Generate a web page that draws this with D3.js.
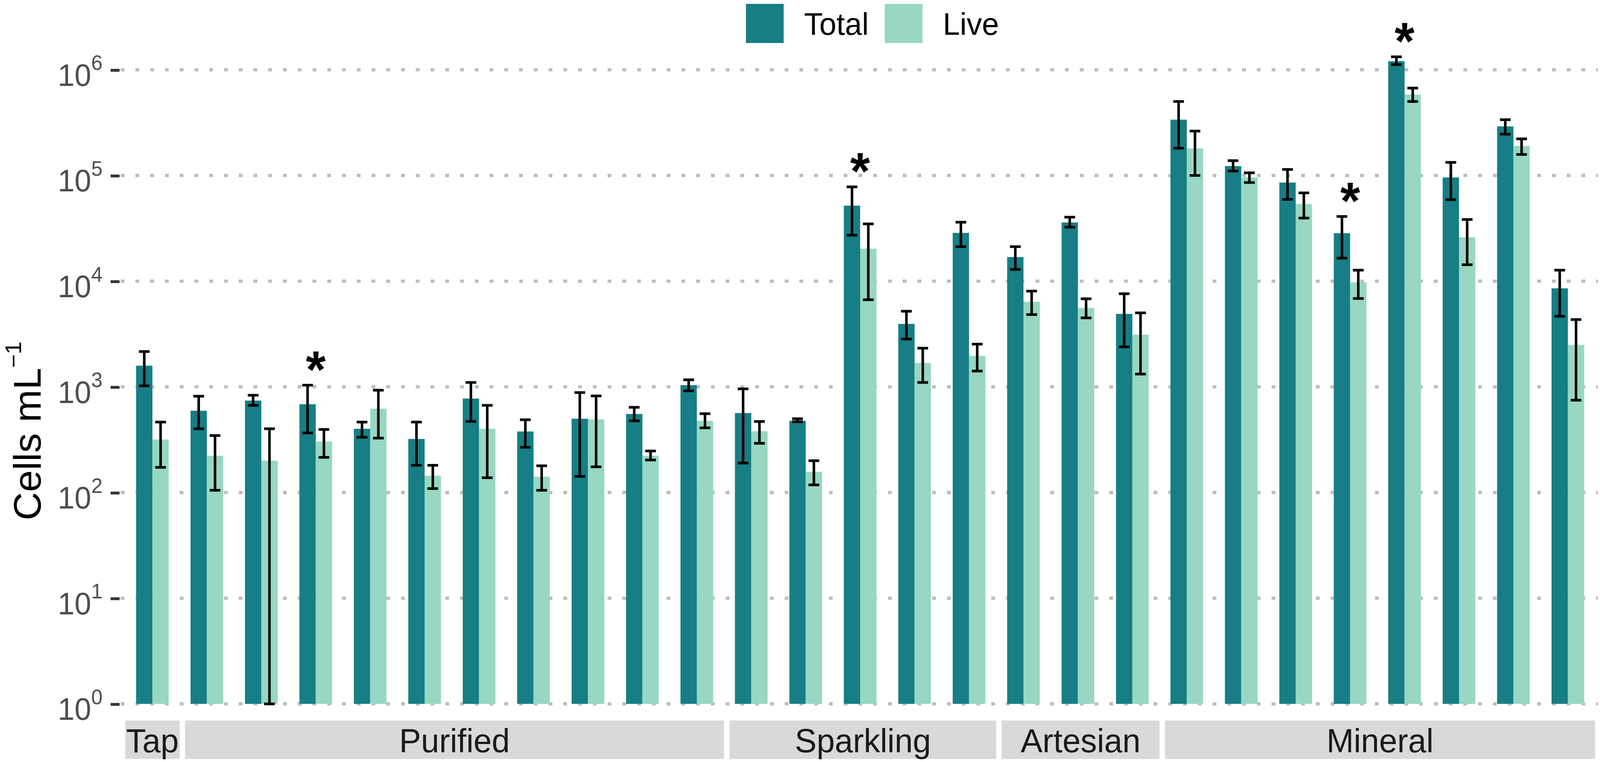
<!DOCTYPE html>
<html>
<head>
<meta charset="utf-8">
<script src="https://d3js.org/d3.v7.min.js"></script>
<style>
  html, body { margin: 0; padding: 0; background: #fff; overflow: hidden; }
  svg { display: block; }
  text { font-family: "Liberation Sans", Arial, Helvetica, sans-serif; }
</style>
</head>
<body>
<script>
// water types and how many brands/samples each one has
var waterTypes = ["Tap", "Purified", "Sparkling", "Artesian", "Mineral"];
var samplesPerType = [1, 10, 5, 3, 8];

// cells per mL (mean and error bar ends)
var totalMean = [1585, 594, 741, 684, 401, 321, 774, 378, 499, 553, 1037,
                 565, 477, 51800, 3940, 28600,
                 16900, 35900, 4900,
                 337000, 122700, 85700, 28400, 1205000, 95700, 291000, 8550];
var totalLow  = [1022, 401, 668, 366, 333, 181, 470, 268, 142, 477, 916,
                 190, 467, 27200, 2830, 21200,
                 12900, 32400, 2390,
                 181000, 110000, 59400, 16500, 1119000, 59000, 246000, 4650];
var totalHigh = [2157, 815, 832, 1037, 464, 464, 1100, 488, 883, 640, 1166,
                 957, 499, 78000, 5190, 36100,
                 21200, 40300, 7600,
                 501000, 138000, 114000, 40900, 1326000, 133000, 337000, 12700];

var liveMean = [317, 223, 200, 303, 621, 144, 401, 141, 492, 223, 477,
                380, 157, 20300, 1683, 1963,
                6370, 5580, 3110,
                180000, 95700, 53700, 9750, 583000, 26000, 190000, 2495];
var liveLow  = [173, 105, 1, 215, 327, 109, 138, 105, 175, 203, 409,
                292, 118, 6670, 1100, 1410,
                4830, 4490, 1320,
                100000, 85700, 39500, 6850, 501000, 14300, 158000, 747];
var liveHigh = [464, 346, 401, 395, 929, 181, 668, 179, 820, 247, 557,
                470, 200, 34800, 2321, 2535,
                8050, 6810, 5010,
                263000, 106000, 68400, 12700, 671000, 38300, 222000, 4330];

// samples marked with an asterisk (0-based)
var starred = [3, 13, 22, 23];

var seriesNames = ["Total", "Live"];
var seriesColors = ["#167e84", "#97d7c3"];
var yTicks = [1, 10, 100, 1000, 10000, 100000, 1000000];

var W = 1568, H = 726.3;

// build rows
var rows = [];
var k = 0;
waterTypes.forEach(function(t, ti) {
  for (var j = 0; j < samplesPerType[ti]; j++) {
    rows.push({
      id: t + "-" + (j + 1), type: t, idx: k,
      vals: [
        {s: "Total", m: totalMean[k], lo: totalLow[k], hi: totalHigh[k]},
        {s: "Live", m: liveMean[k], lo: liveLow[k], hi: liveHigh[k]}
      ]
    });
    k++;
  }
});

// fill whatever viewport we actually get
var vw = window.innerWidth || 4212, vh = window.innerHeight || 1951;
var svg = d3.select("body").append("svg")
  .attr("width", vw).attr("height", vh)
  .attr("viewBox", "0 0 " + W + " " + H)
  .attr("preserveAspectRatio", "none");

var x = d3.scaleBand()
  .domain(rows.map(d => d.id))
  .range([122.7, 1563.2])
  .paddingInner(0.4)
  .paddingOuter(0.2);

var xInner = d3.scaleBand()
  .domain(seriesNames)
  .range([0, x.bandwidth()]);

var color = d3.scaleOrdinal().domain(seriesNames).range(seriesColors);

var y = d3.scaleLog().domain([1, 1e6]).range([670.9, 66.5]);

// dotted grid
svg.append("g").selectAll("line")
  .data(yTicks)
  .enter().append("line")
  .attr("x1", 118.3).attr("x2", 1566)
  .attr("y1", d => y(d)).attr("y2", d => y(d))
  .attr("stroke", "#bdbdbd")
  .attr("stroke-width", 3.1)
  .attr("stroke-dasharray", "3.7 10.76");

// bars
var groups = svg.append("g").selectAll("g")
  .data(rows)
  .enter().append("g")
  .attr("transform", d => "translate(" + x(d.id) + ",0)");

groups.selectAll("rect")
  .data(d => d.vals)
  .enter().append("rect")
  .attr("x", d => xInner(d.s))
  .attr("width", xInner.bandwidth())
  .attr("y", d => y(d.m))
  .attr("height", d => y(1) - y(d.m))
  .attr("fill", d => color(d.s));

// error bars
var capW = 10.5;
var eb = groups.selectAll("g.err")
  .data(d => d.vals)
  .enter().append("g")
  .attr("class", "err")
  .attr("stroke", "#000")
  .attr("stroke-width", 2.5);

eb.append("line")
  .attr("x1", d => xInner(d.s) + xInner.bandwidth() / 2)
  .attr("x2", d => xInner(d.s) + xInner.bandwidth() / 2)
  .attr("y1", d => y(d.hi)).attr("y2", d => y(d.lo));
eb.append("line")
  .attr("x1", d => xInner(d.s) + xInner.bandwidth() / 2 - capW / 2)
  .attr("x2", d => xInner(d.s) + xInner.bandwidth() / 2 + capW / 2)
  .attr("y1", d => y(d.hi)).attr("y2", d => y(d.hi));
eb.append("line")
  .attr("x1", d => xInner(d.s) + xInner.bandwidth() / 2 - capW / 2)
  .attr("x2", d => xInner(d.s) + xInner.bandwidth() / 2 + capW / 2)
  .attr("y1", d => y(d.lo)).attr("y2", d => y(d.lo));

// asterisks
var starSize = 50;
svg.append("g").selectAll("text")
  .data(rows.filter(d => starred.indexOf(d.idx) >= 0))
  .enter().append("text")
  .attr("x", d => x(d.id) + x.bandwidth() / 2)
  .attr("y", d => y(d3.max(d.vals, v => v.hi)) - 27 + 0.58 * starSize)
  .attr("text-anchor", "middle")
  .attr("font-size", starSize)
  .attr("font-weight", "bold")
  .attr("fill", "#000")
  .text("*");

// facet strips
var step = x.step();
var strips = waterTypes.map(function(t, ti) {
  var sub = rows.filter(d => d.type === t);
  var x0 = x(sub[0].id) - x.paddingOuter() * step;
  var x1 = x(sub[sub.length - 1].id) + x.bandwidth() + x.paddingOuter() * step;
  if (ti > 0) x0 += 5.3;
  return {t: t, x0: x0, x1: x1};
});
var sg = svg.append("g").selectAll("g")
  .data(strips)
  .enter().append("g");
sg.append("rect")
  .attr("x", d => d.x0).attr("width", d => d.x1 - d.x0)
  .attr("y", 686.8).attr("height", 36.6)
  .attr("fill", "#d9d9d9");
sg.append("text")
  .attr("x", d => (d.x0 + d.x1) / 2)
  .attr("y", 717)
  .attr("text-anchor", "middle")
  .attr("font-size", 32)
  .attr("fill", "#1a1a1a")
  .text(d => d.t);

// y axis
var axis = svg.append("g")
  .attr("transform", "translate(117.2,0)")
  .call(d3.axisLeft(y).tickValues(yTicks).tickSize(8.8).tickFormat(""));
axis.select(".domain").remove();
axis.selectAll(".tick line").attr("stroke", "#333").attr("stroke-width", 2.7);
axis.selectAll(".tick text").remove();
var lab = axis.selectAll(".tick").append("text")
  .attr("x", -16.7)
  .attr("y", 14.8)
  .attr("text-anchor", "end")
  .attr("fill", "#4d4d4d")
  .attr("font-size", 29.4);
lab.append("tspan").text("10");
lab.append("tspan").attr("dy", -15).attr("font-size", 20)
  .text(d => Math.round(Math.log10(d)));

// y title
var title = svg.append("text")
  .attr("transform", "translate(39.8,496) rotate(-90)")
  .attr("font-size", 37.4)
  .attr("fill", "#000");
title.append("tspan").text("Cells mL");
title.append("tspan").attr("dy", -19).attr("font-size", 22).text("\u22121");

// legend
var legX = [731, 867];
var leg = svg.append("g").selectAll("g")
  .data(seriesNames)
  .enter().append("g")
  .attr("transform", (d, i) => "translate(" + legX[i] + ",3.7)");
leg.append("rect")
  .attr("width", 37).attr("height", 37.3)
  .attr("fill", d => color(d));
leg.append("text")
  .attr("x", 57).attr("y", 29.6)
  .attr("font-size", 30)
  .attr("fill", "#000")
  .text(d => d);
</script>
</body>
</html>
